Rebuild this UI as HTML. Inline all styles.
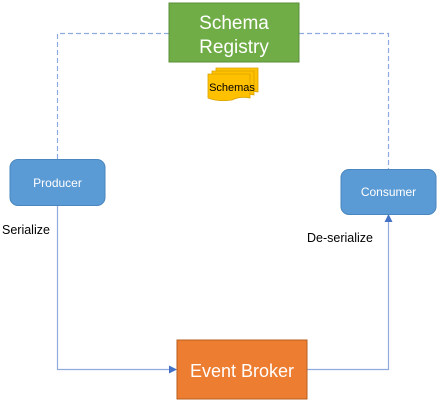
<!DOCTYPE html>
<html><head><style>
body{margin:0;background:#fff;}
svg text{font-family:"Liberation Sans",sans-serif;}
</style></head><body>
<svg width="439" height="402" xmlns="http://www.w3.org/2000/svg">
<defs>
<marker id="a" markerWidth="8" markerHeight="8" refX="7" refY="4" orient="auto" markerUnits="userSpaceOnUse">
<path d="M0,0 L8,4 L0,8 Z" fill="#4472c4"/></marker>
</defs>
<path d="M57.5,159 V33.5 H169 M299,33.5 H388.5 V169" fill="none" stroke="#8faadc" stroke-width="1.2" stroke-dasharray="5,3"/>
<path d="M57.5,205 V369.5 H176" fill="none" stroke="#8faadc" stroke-width="1.2" marker-end="url(#a)"/>
<path d="M307,369.5 H388.5 V215" fill="none" stroke="#8faadc" stroke-width="1.2" marker-end="url(#a)"/>
<rect x="169" y="3" width="130" height="59" fill="#70ad47" stroke="#5a8f37"/>
<text x="234" y="29" font-size="19" fill="#fff" text-anchor="middle">Schema</text>
<text x="234" y="53" font-size="19" fill="#fff" text-anchor="middle">Registry</text>
<path d="M216,68 H258 V92 Q248,90 240,94 Q226,96 216,92 Z" fill="#ffc000" stroke="#d9a400" stroke-width="0.8"/>
<path d="M212,71 H254 V95 Q244,93 236,97 Q222,99 212,95 Z" fill="#ffc000" stroke="#d9a400" stroke-width="0.8"/>
<path d="M208,74 H250 V98 Q240,96 232,100 Q218,102 208,98 Z" fill="#ffc000" stroke="#d9a400" stroke-width="0.8"/>
<text x="232" y="91" font-size="11" fill="#000" text-anchor="middle">Schemas</text>
<rect x="10" y="159.5" width="95" height="46" rx="8" fill="#5b9bd5" stroke="#4a86bf"/>
<text x="57.5" y="187" font-size="12" fill="#fff" text-anchor="middle">Producer</text>
<rect x="341" y="169.5" width="95" height="45" rx="8" fill="#5b9bd5" stroke="#4a86bf"/>
<text x="388.5" y="196" font-size="12" fill="#fff" text-anchor="middle">Consumer</text>
<text x="2" y="234" font-size="12.5" fill="#000">Serialize</text>
<text x="307" y="242" font-size="12.5" fill="#000">De-serialize</text>
<rect x="177" y="340" width="130" height="59" fill="#ed7d31" stroke="#b85e20"/>
<text x="242" y="377" font-size="18" fill="#fff" text-anchor="middle">Event Broker</text>
</svg>
</body></html>
